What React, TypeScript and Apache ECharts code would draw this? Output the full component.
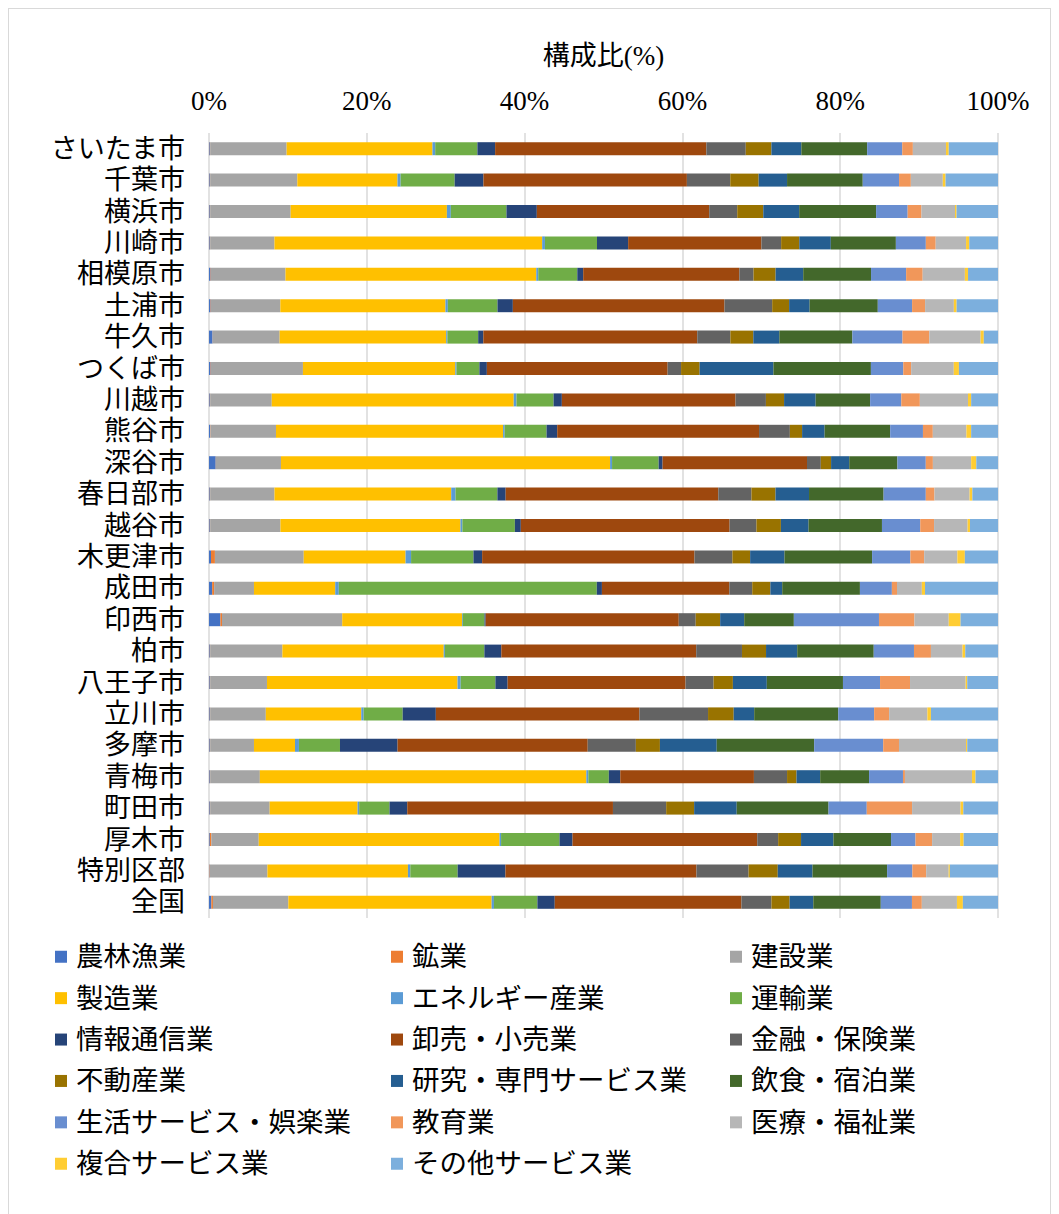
import React, { useEffect, useRef } from "react";
import * as echarts from "echarts";

const cities = ["さいたま市","千葉市","横浜市","川崎市","相模原市","土浦市","牛久市","つくば市","川越市","熊谷市","深谷市","春日部市","越谷市","木更津市","成田市","印西市","柏市","八王子市","立川市","多摩市","青梅市","町田市","厚木市","特別区部","全国"];

const seriesNames = ["農林漁業","鉱業","建設業","製造業","エネルギー産業","運輸業","情報通信業","卸売・小売業","金融・保険業","不動産業","研究・専門サービス業","飲食・宿泊業","生活サービス・娯楽業","教育業","医療・福祉業","複合サービス業","その他サービス業"];

const colors = ["#4472C4","#ED7D31","#A5A5A5","#FFC000","#5B9BD5","#70AD47","#264478","#9E480E","#636363","#997300","#255E91","#43682B","#698ED0","#F1975A","#B7B7B7","#FFCD33","#7CAFDD"];

const agri = [0.1,0.1,0.1,0.1,0.2,0.2,0.45,0.2,0.1,0.15,0.85,0.1,0.1,0.25,0.4,1.45,0.1,0.1,0.1,0.1,0.1,0.1,0.1,0.05,0.3];
const mining = [0.05,0.05,0.05,0.05,0.05,0.05,0.02,0.05,0.05,0.05,0.02,0.05,0.05,0.5,0.25,0.2,0.05,0.05,0.05,0.05,0.05,0.05,0.2,0.05,0.2];
const construction = [9.7,11.05,10.2,8.15,9.45,8.8,8.48,11.65,7.8,8.28,8.25,8.15,8.9,11.25,5.05,15.25,9.15,7.2,7.05,5.55,6.3,7.55,6.0,7.3,9.55];
const manufacturing = [18.5,12.7,19.8,33.95,31.8,20.95,21.1,19.3,30.65,28.75,41.7,22.4,22.8,12.9,10.3,15.2,20.45,24.15,12.1,5.2,41.4,11.15,30.5,17.8,25.75];
const energy = [0.35,0.4,0.5,0.35,0.25,0.3,0.15,0.15,0.35,0.2,0.25,0.55,0.25,0.7,0.45,0.1,0.15,0.4,0.3,0.5,0.25,0.2,0.2,0.3,0.3];
const transport = [5.35,6.85,7.05,6.6,4.95,6.3,3.9,2.9,4.7,5.3,5.9,5.3,6.65,7.9,32.7,2.75,5.0,4.4,4.95,5.2,2.6,3.85,7.4,6.0,5.5];
const ict = [2.25,3.65,3.85,3.95,0.75,1.95,0.65,0.95,1.05,1.35,0.5,1.05,0.75,1.1,0.65,0.15,2.15,1.55,4.2,7.3,1.45,2.25,1.65,6.05,2.2];
const wholesale = [26.8,25.8,21.85,16.9,19.8,26.85,27.1,22.9,22.0,25.55,18.3,26.95,26.45,26.9,16.15,24.5,24.7,22.55,25.8,24.1,16.95,26.1,23.4,24.2,23.65];
const finance = [5.0,5.5,3.55,2.5,1.8,6.05,4.2,1.7,3.85,3.9,1.75,4.2,3.4,4.8,2.9,2.15,5.8,3.55,8.7,6.1,4.2,6.75,2.65,6.6,3.8];
const realestate = [3.25,3.6,3.3,2.3,2.8,2.15,2.9,2.35,2.3,1.55,1.3,3.05,3.1,2.25,2.3,3.1,3.05,2.45,3.25,3.05,1.2,3.55,2.9,3.7,2.3];
const research = [3.8,3.6,4.55,4.0,3.5,2.6,3.3,9.35,4.0,2.85,2.3,4.25,3.5,4.35,1.5,3.05,3.95,4.3,2.6,7.2,3.0,5.4,4.1,4.4,3.0];
const food = [8.35,9.6,9.75,8.25,8.6,8.65,9.25,12.35,6.9,8.3,6.1,9.45,9.3,11.1,9.85,6.3,9.7,9.65,10.65,12.35,6.2,11.65,7.3,9.45,8.55];
const living = [4.45,4.6,4.0,3.8,4.45,4.35,6.35,4.1,3.95,4.15,3.6,5.35,4.85,4.85,4.05,10.8,5.1,4.7,4.55,8.75,4.3,4.85,3.1,3.2,3.95];
const education = [1.35,1.5,1.75,1.25,2.1,1.65,3.4,1.0,2.35,1.25,0.9,1.1,1.75,1.75,0.65,4.5,2.15,3.8,1.9,2.0,0.25,5.75,2.1,1.75,1.25];
const medical = [4.2,4.05,4.25,3.85,5.35,3.65,6.5,5.4,6.1,4.25,4.85,4.45,4.25,4.2,3.15,4.35,4.0,7.05,4.85,8.5,8.5,6.15,3.55,2.85,4.45];
const compound = [0.35,0.35,0.2,0.4,0.4,0.35,0.4,0.65,0.4,0.6,0.65,0.35,0.3,0.95,0.4,1.5,0.35,0.2,0.45,0.15,0.45,0.35,0.45,0.15,0.75];
const other = [6.25,6.65,5.25,3.65,3.8,5.25,1.8,4.95,3.4,3.4,2.75,3.25,3.55,4.2,9.25,4.75,4.15,3.9,8.5,3.9,2.85,4.4,4.35,6.1,4.45];

const seriesValues = [agri, mining, construction, manufacturing, energy, transport, ict, wholesale, finance, realestate, research, food, living, education, medical, compound, other];

const xTicks = [0, 20, 40, 60, 80, 100];

const legendColumns = [
  ["農林漁業","製造業","情報通信業","不動産業","生活サービス・娯楽業","複合サービス業"],
  ["鉱業","エネルギー産業","卸売・小売業","研究・専門サービス業","教育業","その他サービス業"],
  ["建設業","運輸業","金融・保険業","飲食・宿泊業","医療・福祉業"],
];

const FONT = '"Liberation Serif", "Noto Sans CJK JP", serif';

export default function App() {
  const ref = useRef<HTMLDivElement>(null);
  useEffect(() => {
    document.documentElement.style.overflow = "hidden";
    if (!ref.current) return;
    const chart = echarts.init(ref.current, null, { renderer: "svg" });
    const totals = cities.map((_, i) => seriesValues.reduce((s, arr) => s + arr[i], 0));
    const legendLefts = [46, 382, 721];
    chart.setOption({
      animation: false,
      color: colors,
      grid: { left: 200, right: 52, top: 124, height: 785, containLabel: false },
      xAxis: {
        type: "value",
        position: "top",
        min: xTicks[0],
        max: xTicks[xTicks.length - 1],
        interval: 20,
        name: "構成比(%)",
        nameLocation: "middle",
        nameGap: 64,
        nameTextStyle: { fontSize: 27, color: "#000", fontFamily: FONT },
        axisLabel: { formatter: "{value}%", fontSize: 27, color: "#000", fontFamily: FONT, margin: 19 },
        axisLine: { show: false },
        axisTick: { show: false },
        splitLine: { show: true, lineStyle: { color: "#D9D9D9", width: 1.5 } },
      },
      yAxis: {
        type: "category",
        inverse: true,
        data: cities,
        axisLine: { show: false },
        axisTick: { show: false },
        axisLabel: { interval: 0, fontSize: 27, color: "#000", fontFamily: FONT, margin: 24 },
      },
      legend: legendColumns.map((col, ci) => ({
        orient: "vertical",
        left: legendLefts[ci],
        top: 934,
        padding: 0,
        itemWidth: 12,
        itemHeight: 12,
        itemGap: 13.9,
        icon: "rect",
        selectedMode: false,
        data: col,
        textStyle: { fontSize: 27.5, lineHeight: 27, color: "#000", fontFamily: FONT, padding: [0, 0, 0, 4] },
      })),
      series: seriesNames.map((name, si) => ({
        name,
        type: "bar",
        stack: "total",
        barWidth: 13,
        itemStyle: { color: colors[si] },
        data: seriesValues[si].map((v, i) => (v / totals[i]) * 100),
      })),
    });
    return () => chart.dispose();
  }, []);
  return (
    <div style={{ width: "100%", height: 1220, border: "1px solid #D9D9D9", boxSizing: "border-box" }}>
      <div ref={ref} style={{ width: 1041, height: 1218 }} />
    </div>
  );
}
